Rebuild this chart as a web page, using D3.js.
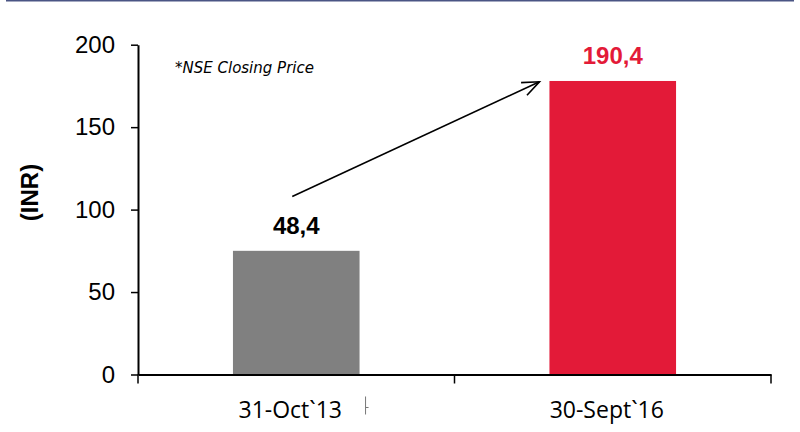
<!DOCTYPE html>
<meta charset="utf-8">
<head>
  <script src="https://d3js.org/d3.v7.min.js"></script>
  <style>
    body { margin: 0; background: #fff; }
  </style>
</head>
<body>
<div id="bar_chart"></div>
<script>

// data
var categories = ["31-Oct`13", "30-Sept`16"];
var barValues = [75, 178];          // drawn bar heights
var barLabels = ["48,4", "190,4"];  // printed values
var barColors = ["#808080", "#e31a38"];
var yTicks = [0, 50, 100, 150, 200];

var W = 800, H = 432;
var margin = {top: 44.7, right: 29, bottom: 57.5, left: 138},
    width = W - margin.left - margin.right,
    height = H - margin.top - margin.bottom;

var svg = d3.select("#bar_chart")
  .append("svg")
    .attr("width", W)
    .attr("height", H);

// thin rule on top of the slide
svg.append("line")
  .attr("x1", 6).attr("x2", 794)
  .attr("y1", 0.5).attr("y2", 0.5)
  .attr("stroke", "#4a5584")
  .attr("stroke-width", 2);

var g = svg.append("g")
  .attr("transform", "translate(" + margin.left + "," + margin.top + ")");

var x = d3.scaleBand()
  .domain(categories)
  .range([0, width])
  .paddingInner(0.6)
  .paddingOuter(0.3);

var y = d3.scaleLinear()
  .domain([0, 200])
  .range([height, 0]);

// bars
g.selectAll(".bar")
  .data(barValues)
  .enter().append("rect")
    .attr("class", "bar")
    .attr("x", function(d, i) { return x(categories[i]); })
    .attr("y", function(d) { return y(d); })
    .attr("width", x.bandwidth())
    .attr("height", function(d) { return height - y(d); })
    .attr("fill", function(d, i) { return barColors[i]; });

// value labels
g.selectAll(".val")
  .data(barValues)
  .enter().append("text")
    .attr("x", function(d, i) { return x(categories[i]) + x.bandwidth() / 2; })
    .attr("y", function(d) { return y(d) - 17; })
    .attr("text-anchor", "middle")
    .style("font-family", "'Liberation Sans', Arial, sans-serif")
    .style("font-weight", "bold")
    .style("font-size", "24px")
    .style("fill", function(d, i) { return i == 0 ? "#000" : barColors[i]; })
    .text(function(d, i) { return barLabels[i]; });

// Y axis
var yAxis = g.append("g")
  .call(d3.axisLeft(y).tickValues(yTicks).tickSize(7).tickPadding(16).tickSizeOuter(0));
yAxis.select(".domain").attr("stroke-width", 2);
yAxis.selectAll(".tick line").attr("stroke-width", 1.5);
yAxis.selectAll("text")
  .style("font-family", "'Liberation Sans', Arial, sans-serif")
  .style("font-size", "24px")
  .style("fill", "#000");

// X axis: line plus ticks on band edges
var xAxis = g.append("g")
  .attr("transform", "translate(0," + height + ")")
  .call(d3.axisBottom(x).tickSize(0).tickSizeOuter(0).tickPadding(30));
xAxis.select(".domain").attr("stroke-width", 2);
xAxis.selectAll("text")
  .attr("dx", -6)
  .attr("dy", "0.6em")
  .style("font-family", "'Open Sans', sans-serif")
  .style("font-size", "23px")
  .style("fill", "#000");

var edges = d3.range(categories.length + 1).map(function(i) { return i * x.step(); });
xAxis.selectAll(".edge")
  .data(edges)
  .enter().append("line")
    .attr("x1", function(d) { return d; })
    .attr("x2", function(d) { return d; })
    .attr("y1", 0)
    .attr("y2", 9)
    .attr("stroke", "#000")
    .attr("stroke-width", 1.5);

// small stray tick mark next to first label
var sx = x(categories[0]) + x.bandwidth() + 6;
g.append("path")
  .attr("d", "M" + sx + "," + (height + 22) + "V" + (height + 40) + "M" + sx + "," + (height + 33) + "h3")
  .attr("stroke", "#777")
  .attr("stroke-width", 1)
  .attr("fill", "none");

// y title
svg.append("text")
  .attr("transform", "translate(38,192.5) rotate(-90)")
  .attr("text-anchor", "middle")
  .style("font-family", "'Liberation Sans', Arial, sans-serif")
  .style("font-weight", "bold")
  .style("font-size", "24px")
  .text("(INR)");

// note
g.append("text")
  .attr("x", 37)
  .attr("y", 28)
  .style("font-family", "'DejaVu Sans', sans-serif")
  .style("font-style", "italic")
  .style("font-size", "15px")
  .style("fill", "#000")
  .text("*NSE Closing Price");

// growth arrow
svg.append("defs").append("marker")
  .attr("id", "head")
  .attr("viewBox", "-20 -10 22 20")
  .attr("refX", 0).attr("refY", 0)
  .attr("markerWidth", 22).attr("markerHeight", 20)
  .attr("markerUnits", "userSpaceOnUse")
  .attr("orient", "auto")
  .append("path")
    .attr("d", "M-17,-7L0,0L-17,7")
    .attr("fill", "none")
    .attr("stroke", "#000")
    .attr("stroke-width", 1.6);

g.append("line")
  .attr("x1", x(categories[0]) + x.bandwidth() / 2 - 4)
  .attr("y1", y(108))
  .attr("x2", x(categories[1]) - 10)
  .attr("y2", y(177.5))
  .attr("stroke", "#000")
  .attr("stroke-width", 1.6)
  .attr("marker-end", "url(#head)");

</script>
</body>
